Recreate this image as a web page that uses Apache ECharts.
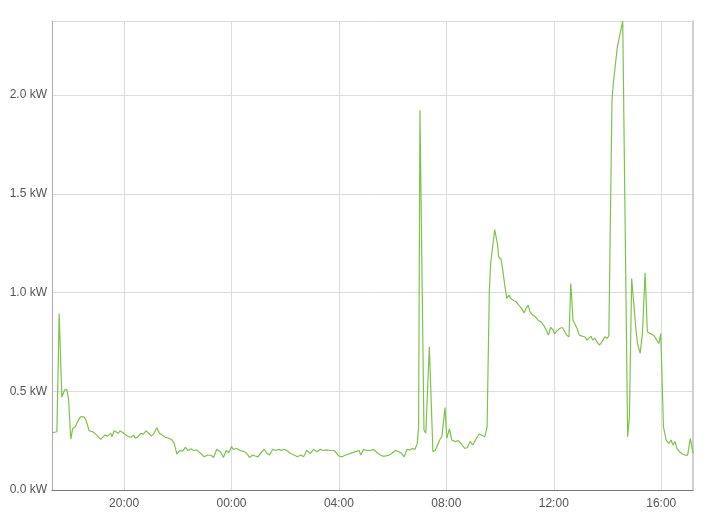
<!DOCTYPE html>
<html>
<head>
<meta charset="utf-8">
<script src="https://cdn.jsdelivr.net/npm/echarts@6/dist/echarts.min.js"></script>
<style>
html,body{margin:0;padding:0;background:#fff;}
#chart{width:721px;height:527px;}
</style>
</head>
<body>
<div id="chart"></div>
<script>
// Time of day (start: day 1, rolls over past midnight)
const times = [
'17:19','17:30','17:32','17:35','17:41','17:47','17:52','17:56','18:01','18:05',
'18:11','18:16','18:22','18:31','18:35','18:42','18:50','18:59','19:08','19:17',
'19:23','19:30','19:33','19:38','19:42','19:47','19:51','19:58','20:04','20:10',
'20:16','20:21','20:25','20:31','20:37','20:43','20:49','20:55','21:01','21:07',
'21:13','21:19','21:25','21:32','21:40','21:46','21:52','21:58','22:05','22:11',
'22:17','22:23','22:29','22:36','22:42','22:51','22:59','23:06','23:14','23:20',
'23:27','23:35','23:42','23:48','23:54','00:00','00:04','00:12','00:19','00:27',
'00:34','00:40','00:48','00:53','00:59','01:05','01:13','01:19','01:25','01:32',
'01:38','01:46','01:51','01:57','02:04','02:11','02:20','02:27','02:35','02:41',
'02:48','02:56','03:03','03:11','03:18','03:25','03:33','03:40','03:49','03:55',
'04:00','04:07','04:15','04:22','04:30','04:37','04:45','04:49','04:55','05:02',
'05:10','05:17','05:23','05:29','05:37','05:44','05:52','05:59','06:06','06:14',
'06:20','06:26','06:32','06:38','06:44','06:50','06:55','06:58','07:01','07:10',
'07:14','07:22','07:26','07:30','07:35','07:39','07:45','07:50','07:53','07:57',
'08:01','08:07','08:12','08:20','08:27','08:35','08:42','08:47','08:53','08:59',
'09:07','09:13','09:19','09:26','09:31','09:36','09:39','09:48','09:54','09:57',
'10:02','10:06','10:11','10:15','10:20','10:24','10:30','10:36','10:42','10:48',
'10:54','10:58','11:03','11:07','11:13','11:19','11:25','11:31','11:37','11:43',
'11:48','11:53','11:58','12:02','12:07','12:13','12:19','12:23','12:29','12:34',
'12:38','12:43','12:47','12:52','12:57','13:03','13:09','13:14','13:18','13:23',
'13:27','13:32','13:36','13:42','13:48','13:54','13:59','14:03','14:10','14:13',
'14:17','14:22','14:28','14:34','14:45','14:49','14:54','14:58','15:03','15:07',
'15:13','15:18','15:24','15:29','15:35','15:43','15:50','15:55','15:59','16:05',
'16:11','16:17','16:22','16:26','16:31','16:35','16:41','16:47','16:53','16:59',
'17:05','17:11'
];
// Power in kW
const powerKW = [
0.29,0.295,0.30,0.894,0.47,0.506,0.51,0.46,0.258,0.31,
0.32,0.345,0.37,0.37,0.354,0.30,0.295,0.278,0.256,0.278,
0.273,0.287,0.27,0.30,0.31,0.287,0.30,0.29,0.278,0.27,
0.267,0.278,0.262,0.27,0.287,0.283,0.30,0.287,0.273,0.287,
0.315,0.287,0.278,0.267,0.262,0.256,0.236,0.182,0.20,0.197,
0.216,0.20,0.209,0.20,0.203,0.186,0.168,0.176,0.176,0.165,
0.206,0.194,0.165,0.20,0.189,0.22,0.206,0.21,0.20,0.196,
0.186,0.165,0.177,0.172,0.168,0.186,0.206,0.186,0.177,0.206,
0.20,0.206,0.20,0.206,0.20,0.186,0.177,0.168,0.177,0.168,
0.20,0.186,0.206,0.194,0.206,0.20,0.203,0.20,0.20,0.186,
0.172,0.168,0.177,0.182,0.189,0.194,0.20,0.177,0.206,0.20,
0.20,0.206,0.194,0.182,0.172,0.172,0.177,0.186,0.20,0.194,
0.186,0.168,0.206,0.203,0.21,0.206,0.235,0.32,1.923,0.304,
0.287,0.725,0.734,0.194,0.20,0.22,0.253,0.27,0.262,0.418,
0.262,0.31,0.253,0.245,0.25,0.228,0.21,0.215,0.245,0.228,
0.262,0.283,0.277,0.27,0.32,1.01,1.147,1.319,1.248,1.18,
1.17,1.113,1.029,0.97,0.987,0.97,0.96,0.953,0.936,0.92,
0.897,0.92,0.936,0.902,0.886,0.877,0.86,0.852,0.835,0.81,
0.784,0.823,0.813,0.79,0.806,0.818,0.823,0.823,0.784,0.776,
1.046,0.86,0.86,0.818,0.784,0.779,0.776,0.759,0.756,0.779,
0.759,0.768,0.751,0.734,0.751,0.776,0.768,0.78,1.974,2.058,
2.142,2.243,2.31,2.375,0.27,0.371,1.071,0.962,0.826,0.742,
0.692,0.793,1.10,0.801,0.793,0.784,0.759,0.742,0.793,0.32,
0.253,0.236,0.253,0.228,0.245,0.21,0.194,0.182,0.177,0.177,
0.262,0.186
];
const yTicks = [0, 0.5, 1.0, 1.5, 2.0];
const yMax = 2.375;
const unit = 'kW';

// Build timestamps (local time), rolling over to the next day at midnight
const points = [];
let day = 1, prevMin = -1;
for (let i = 0; i < times.length; i++) {
  const [h, m] = times[i].split(':').map(Number);
  const mins = h * 60 + m;
  if (mins < prevMin) day++;
  prevMin = mins;
  points.push([new Date(2024, 2, day, h, m).getTime(), powerKW[i]]);
}
const pad = n => (n < 10 ? '0' : '') + n;

const chart = echarts.init(document.getElementById('chart'), null, {renderer: 'canvas'});
chart.setOption({
  animation: false,
  backgroundColor: '#ffffff',
  grid: {left: 52, right: 28, top: 21, bottom: 37, containLabel: false},
  xAxis: {
    type: 'time',
    min: points[0][0],
    max: points[points.length - 1][0],
    minInterval: 4 * 3600 * 1000,
    maxInterval: 4 * 3600 * 1000,
    axisLine: {show: true, lineStyle: {color: '#777', width: 1}},
    axisTick: {show: false},
    minorTick: {show: false},
    splitLine: {show: true, lineStyle: {color: '#dcdcdc', width: 1}},
    axisLabel: {
      color: '#555', fontSize: 12, fontFamily: 'Liberation Sans, Arial, sans-serif',
      margin: 8, showMinLabel: false, showMaxLabel: false,
      formatter: function (v) {
        const d = new Date(v);
        if (d.getMinutes() !== 0) return '';
        return pad(d.getHours()) + ':' + pad(d.getMinutes());
      }
    }
  },
  yAxis: [{
    type: 'value',
    min: 0, max: yMax, interval: 0.5,
    axisLine: {show: true, lineStyle: {color: '#aaa', width: 1}},
    axisTick: {show: false},
    splitLine: {show: true, lineStyle: {color: '#dcdcdc', width: 1}},
    axisLabel: {
      color: '#555', fontSize: 12, fontFamily: 'Liberation Sans, Arial, sans-serif',
      margin: 5, showMaxLabel: false,
      formatter: function (v) {
        if (yTicks.indexOf(v) < 0) return '';
        return v.toFixed(1) + ' ' + unit;
      }
    }
  }, {
    type: 'value',
    position: 'right',
    min: 0, max: yMax, interval: 0.5,
    axisLine: {show: true, lineStyle: {color: '#d0d0d0', width: 2}},
    axisTick: {show: false},
    splitLine: {show: false},
    axisLabel: {show: false}
  }],
  series: [{
    type: 'line',
    data: points,
    showSymbol: false,
    symbol: 'none',
    lineStyle: {color: '#7dc34a', width: 1.2},
    markLine: {
      silent: true,
      symbol: 'none',
      label: {show: false},
      lineStyle: {color: '#f3cdbf', type: 'solid', width: 1},
      data: [{yAxis: yMax}]
    }
  }]
});
</script>
</body>
</html>
